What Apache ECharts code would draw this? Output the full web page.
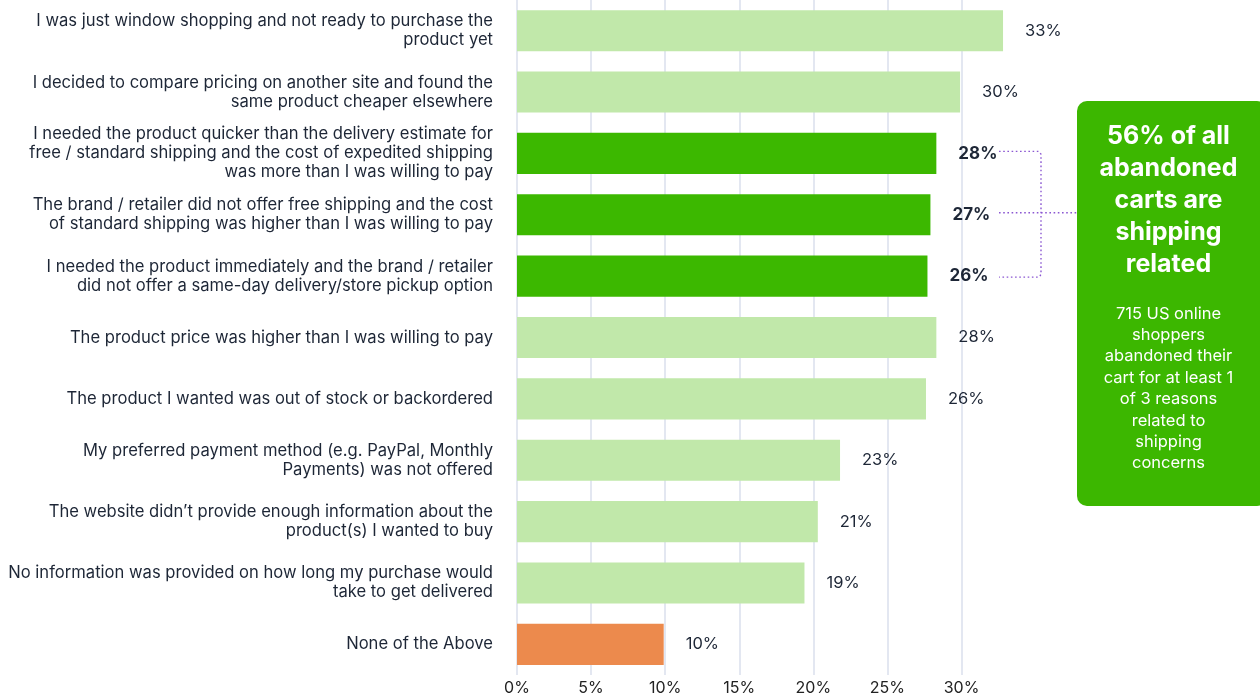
<!DOCTYPE html>
<html>
<head>
<meta charset="utf-8">
<script src="https://cdn.jsdelivr.net/npm/echarts@6/dist/echarts.min.js"></script>
<style>
html,body{margin:0;padding:0;background:#fff;}
#chart{width:1260px;height:697px;}
</style>
</head>
<body>
<div id="chart"></div>
<script>
const categories = [
  "I was just window shopping and not ready to purchase the\nproduct yet",
  "I decided to compare pricing on another site and found the\nsame product cheaper elsewhere",
  "I needed the product quicker than the delivery estimate for\nfree / standard shipping and the cost of expedited shipping\nwas more than I was willing to pay",
  "The brand / retailer did not offer free shipping and the cost\nof standard shipping was higher than I was willing to pay",
  "I needed the product immediately and the brand / retailer\ndid not offer a same-day delivery/store pickup option",
  "The product price was higher than I was willing to pay",
  "The product I wanted was out of stock or backordered",
  "My preferred payment method (e.g. PayPal, Monthly\nPayments) was not offered",
  "The website didn\u2019t provide enough information about the\nproduct(s) I wanted to buy",
  "No information was provided on how long my purchase would\ntake to get delivered",
  "None of the Above"
];
const values = [32.8, 29.9, 28.3, 27.9, 27.7, 28.3, 27.6, 21.8, 20.3, 19.4, 9.9];
const valueLabels = ["33%", "30%", "28%", "27%", "26%", "28%", "26%", "23%", "21%", "19%", "10%"];
const groups = ["other", "other", "shipping", "shipping", "shipping", "other", "other", "other", "other", "other", "none"];
const xTickValues = [0, 5, 10, 15, 20, 25, 30];
const boxTitle = "56% of all\nabandoned\ncarts are\nshipping\nrelated";
const boxNote = "715 US online\nshoppers\nabandoned their\ncart for at least 1\nof 3 reasons\nrelated to\nshipping\nconcerns";

const groupColor = { other: "#c1e8aa", shipping: "#3cb800", none: "#ec8a4d" };
const FONT = "Inter, 'Noto Sans', sans-serif";
const TEXT = "#1d2636";

const chart = echarts.init(document.getElementById("chart"), null, { renderer: "canvas" });

const barData = values.map((v, i) => ({
  value: v,
  itemStyle: { color: groupColor[groups[i]] },
  label: groups[i] === "shipping" ? { fontWeight: "bold", fontSize: 17 } : {}
}));

chart.setOption({
  animation: false,
  textStyle: { fontFamily: FONT },
  grid: { left: 517, right: 254, top: 0, bottom: 22, containLabel: false },
  xAxis: {
    type: "value",
    min: 0,
    max: 33,
    interval: 5,
    axisLine: { show: false },
    axisTick: { show: false },
    splitLine: { show: true, showMaxLine: false, lineStyle: { color: "#e3e7f1", width: 2 } },
    axisLabel: {
      margin: 5,
      fontSize: 16,
      color: "#222",
      fontFamily: FONT,
      showMaxLabel: false,
      formatter: v => (xTickValues.indexOf(v) >= 0 ? v + "%" : "")
    }
  },
  yAxis: {
    type: "category",
    inverse: true,
    data: categories,
    axisLine: { show: false },
    axisTick: { show: false },
    axisLabel: {
      margin: 24,
      fontSize: 16.6,
      lineHeight: 19,
      color: TEXT,
      align: "right",
      fontFamily: FONT
    }
  },
  series: [{
    type: "bar",
    data: barData,
    barCategoryGap: "33%",
    label: {
      show: true,
      position: "right",
      distance: 22,
      fontSize: 16.5,
      color: TEXT,
      fontFamily: FONT,
      formatter: p => valueLabels[p.dataIndex]
    }
  }]
});

// Annotation: bracket linking the shipping bars to the callout box
const shipIdx = groups.map((g, i) => (g === "shipping" ? i : -1)).filter(i => i >= 0);
const yTop = chart.convertToPixel({ yAxisIndex: 0 }, categories[shipIdx[0]]) - 2;
const yMid = chart.convertToPixel({ yAxisIndex: 0 }, categories[shipIdx[1]]) - 2;
const yBot = chart.convertToPixel({ yAxisIndex: 0 }, categories[shipIdx[2]]) + 1;
const xStart = 999, xVert = 1041, boxX = 1077, boxY = 101, boxW = 190, boxH = 405;
const dotted = { stroke: "#8b57d2", lineWidth: 1.4, lineDash: [1.6, 2.6], fill: null };

chart.setOption({
  graphic: [
    {
      type: "polyline",
      shape: {
        points: [
          [xStart, yTop], [xVert - 3, yTop], [xVert - 1, yTop + 1], [xVert, yTop + 3],
          [xVert, yBot - 3], [xVert - 1, yBot - 1], [xVert - 3, yBot], [xStart, yBot]
        ]
      },
      style: dotted,
      silent: true
    },
    {
      type: "line",
      shape: { x1: xStart, y1: yMid, x2: boxX, y2: yMid },
      style: dotted,
      silent: true
    },
    {
      type: "rect",
      shape: { x: boxX, y: boxY, width: boxW, height: boxH, r: 10 },
      style: { fill: "#3cb700" },
      silent: true
    },
    {
      type: "text",
      x: 1168.5,
      y: 120,
      style: {
        text: boxTitle,
        fill: "#fff",
        font: "bold 25px " + FONT,
        lineHeight: 32,
        align: "center",
        verticalAlign: "top"
      },
      silent: true
    },
    {
      type: "text",
      x: 1168.5,
      y: 303,
      style: {
        text: boxNote,
        fill: "#fff",
        font: "16.5px " + FONT,
        lineHeight: 21.4,
        align: "center",
        verticalAlign: "top"
      },
      silent: true
    }
  ]
});
</script>
</body>
</html>
